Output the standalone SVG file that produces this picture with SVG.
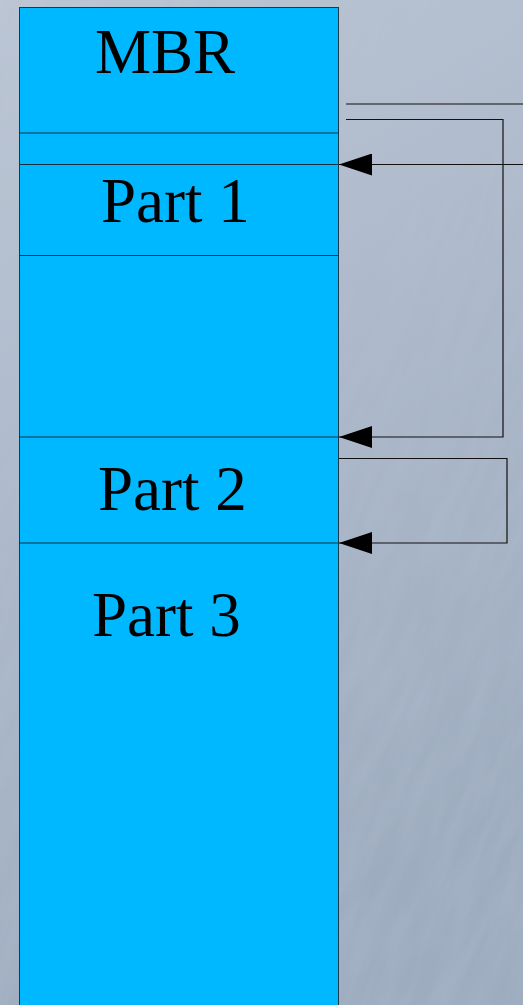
<svg xmlns="http://www.w3.org/2000/svg" width="523" height="1005" viewBox="0 0 523 1005">
<defs>
<linearGradient id="bg" x1="0" y1="0" x2="0.3" y2="1">
<stop offset="0" stop-color="#bcc6d4"/>
<stop offset="0.5" stop-color="#adb9ca"/>
<stop offset="1" stop-color="#9eacbf"/>
</linearGradient>
<filter id="tex" x="0" y="0" width="100%" height="100%">
<feTurbulence type="fractalNoise" baseFrequency="0.07 0.012" numOctaves="3" seed="7" result="n"/>
<feColorMatrix in="n" type="matrix" values="0 0 0 0 0.45  0 0 0 0 0.52  0 0 0 0 0.65  0 0 0 0.5 -0.15"/>
</filter>
<marker id="arr" markerWidth="33" markerHeight="22" refX="33" refY="11" orient="auto" markerUnits="userSpaceOnUse" viewBox="0 0 33 22">
<path d="M0,0 L33,11 L0,22 Z" fill="#000"/>
</marker>
<style>
.part{fill:#00b8ff;stroke:#1a3a4a;stroke-width:1}
.div{stroke:#123040;stroke-width:1.2}
.lbl{font-family:"Liberation Serif","Times New Roman",serif;font-size:63px;fill:#000}
.conn{fill:none;stroke:#111;stroke-width:1.2}
</style>
</defs>
<rect width="523" height="1005" fill="url(#bg)"/>
<rect x="-500" y="-500" width="1600" height="2000" filter="url(#tex)" transform="rotate(22 261 502)"/>
<g id="disk">
<rect class="part" x="19.5" y="7.5" width="319" height="1010"/>
<line class="div" x1="19.5" y1="133" x2="338.5" y2="133"/>
<line class="div" x1="19.5" y1="164.5" x2="338.5" y2="164.5"/>
<line class="div" x1="19.5" y1="255.5" x2="338.5" y2="255.5"/>
<line class="div" x1="19.5" y1="437" x2="338.5" y2="437"/>
<line class="div" x1="19.5" y1="543" x2="338.5" y2="543"/>
</g>
<g id="mbr"><text class="lbl" x="95" y="73">MBR</text></g>
<g id="part1"><text class="lbl" x="101" y="222">Part 1</text></g>
<g id="part2"><text class="lbl" x="98" y="510">Part 2</text></g>
<g id="part3"><text class="lbl" x="92" y="636">Part 3</text></g>
<g id="connectors">
<line class="conn" x1="346" y1="104" x2="523" y2="104"/>
<polyline class="conn" points="346,119.5 503,119.5 503,437 339,437" marker-end="url(#arr)"/>
<line class="conn" x1="523" y1="164.5" x2="339" y2="164.5" marker-end="url(#arr)"/>
<polyline class="conn" points="339,458.5 507,458.5 507,543 339,543" marker-end="url(#arr)"/>
</g>
</svg>
